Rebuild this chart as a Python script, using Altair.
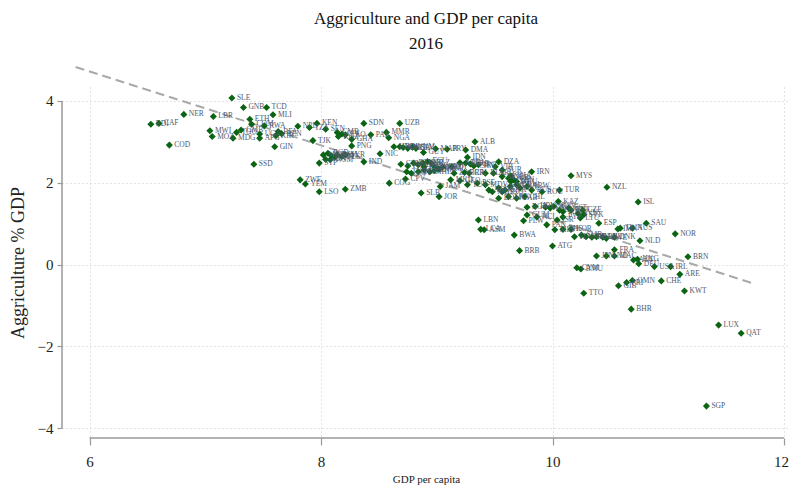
import altair as alt
import pandas as pd

codes = ["BDI","CAF","COD","NER","MWI","MOZ","LBR","SLE","MDG","TGO","GMB","GNB","ETH","COM","SSD","UGA","AFG","RWA","TCD","MLI","GIN","KIR","BFA","BEN",
"NPL","TZA","KEN","TJK","SEN","CMR","KGZ","CIV","LAO","GHA","PNG","SDN","PAK","MMR","NGA","UZB",
"MRT","BGD","KHM","VUT","FSM","TLS","SYR","TON","WSM","STP","NIC","IND","ZWE","YEM","LSO","ZMB","COG","CPV","SLB","JOR","JAM",
"GUY","HND","BOL","MNG","MDA","VNM","SLV","MAR","PRY","DMA","ALB","IDN",
"GTM","PHL","BTN","ARM","UKR","LKA","ECU","BLZ","SWZ","VCT","GRD","TUN","EGY","PER","COL","MHL","TKM","NAM","FJI","GEO","MKD",
"AZE","BIH","SRB","CHN","IRQ","DZA","SUR","ZAF","BRA","CRI","THA","BLR","ARG","MNE","CUB","LBY","VEN","NRU","IRN","MYS","TUR",
"TUV","PSE","MDV","AGO","MUS","URY","GNQ","KNA","MEX","CUW","SYC","ABW","DOM","XKX","GAB","CHL","RUS","ROU","VIR",
"BGR","HRV","LVA","GRC","HUN","KAZ","CYP","POL","EST","PRT","SVN","SVK","LTU","CZE","PLW","GUM","NCL","PAN","ISR","PYF",
"LBN","LCA","ASM","BWA","BRB","ATG",
"MLT","BHS","KOR","ITA","SMR","GBR","FIN","CAN","BEL","SWE","DNK","ESP","IMN","TWN","AUS","SAU","NOR","NLD","ISL","NZL","BRN",
"JPN","AND","FRA","MAC","AUT","HKG","DEU","USA","IRL","ARE","CHE","KWT","CYM","BMU","TTO","GIB","PRI","OMN","BHR","LUX","QAT","SGP"]

gdp = [6.53,6.60,6.69,6.815,7.04,7.06,7.07,7.23,7.24,7.27,7.31,7.33,7.385,7.40,7.42,7.47,7.47,7.51,7.53,7.585,7.60,7.61,7.63,7.66,
7.80,7.90,7.965,7.93,8.04,8.14,8.15,8.18,8.21,8.265,8.265,8.37,8.43,8.565,8.585,8.68,
8.02,8.06,8.09,8.12,8.14,8.18,8.21,8.04,8.08,7.985,8.51,8.37,7.82,7.865,7.985,8.21,8.59,8.73,8.865,9.02,9.03,
8.885,8.63,8.68,8.71,8.75,8.79,8.82,8.99,9.09,9.25,9.33,9.265,
8.69,8.75,8.80,8.84,8.88,8.89,8.92,8.95,8.98,9.01,9.05,8.74,8.78,8.84,8.89,8.94,8.98,9.02,9.13,9.20,9.12,
9.20,9.25,9.29,9.32,9.36,9.535,9.565,9.15,9.24,9.28,9.64,9.42,9.49,9.565,9.62,9.64,9.665,9.69,9.82,10.16,10.06,
9.265,9.35,9.42,9.45,9.48,9.535,9.565,9.59,9.635,9.69,9.72,9.78,9.535,9.62,9.69,9.76,9.82,9.91,9.505,
9.78,9.85,9.94,9.98,10.01,10.05,10.06,10.09,10.14,10.16,10.22,10.27,10.24,10.26,9.75,9.78,9.865,9.95,10.04,10.09,
9.36,9.38,9.41,9.67,9.715,10.0,
10.02,10.09,10.16,10.19,10.25,10.29,10.34,10.38,10.435,10.465,10.535,10.40,10.565,10.585,10.69,10.81,11.06,10.755,10.74,10.47,11.17,
10.38,10.465,10.535,10.535,10.70,10.735,10.745,10.88,11.02,11.10,10.94,11.14,10.21,10.245,10.27,10.57,10.64,10.69,10.68,11.435,11.63,11.33]

agri = [3.43,3.45,2.92,3.67,3.27,3.13,3.62,4.07,3.09,3.23,3.29,3.84,3.55,3.43,2.45,3.19,3.09,3.39,3.84,3.66,2.88,3.15,3.25,3.20,
3.38,3.35,3.45,3.03,3.31,3.23,3.13,3.19,3.17,3.06,2.90,3.45,3.17,3.23,3.10,3.45,
2.68,2.72,2.66,2.62,2.68,2.64,2.68,2.57,2.56,2.48,2.71,2.51,2.07,1.97,1.78,1.84,1.99,2.09,1.75,1.66,1.91,
2.74,2.88,2.88,2.86,2.84,2.87,2.84,2.83,2.82,2.80,3.00,2.62,
2.45,2.41,2.48,2.44,2.48,2.39,2.52,2.48,2.39,2.35,2.38,2.27,2.23,2.27,2.31,2.27,2.30,2.33,2.39,2.05,2.07,
2.49,2.48,2.46,2.41,2.44,2.51,2.31,2.23,2.25,2.23,2.17,2.23,2.23,2.15,2.11,2.03,2.07,2.03,2.27,2.17,1.82,
1.95,1.99,1.95,1.82,1.78,1.87,1.78,1.82,1.91,1.95,1.87,1.91,1.62,1.66,1.62,1.66,1.82,1.78,2.39,
1.40,1.42,1.40,1.38,1.42,1.54,1.33,1.29,1.38,1.33,1.25,1.22,1.14,1.33,1.07,1.21,1.16,0.97,1.09,1.16,
1.09,0.86,0.85,0.72,0.34,0.455,
0.85,0.86,0.86,0.68,0.72,0.68,0.67,0.68,0.67,0.64,0.67,1.01,0.87,0.89,0.89,1.01,0.75,0.58,1.53,1.89,0.19,
0.21,0.21,0.36,0.21,0.11,0.13,0.02,-0.05,-0.05,-0.24,-0.40,-0.645,-0.08,-0.11,-0.70,-0.52,-0.44,-0.39,-1.09,-1.48,-1.68,-3.46]

fit_gdp = [5.88, 11.72]
fit_agri = [4.83, -0.45]

x_ticks = [6, 8, 10, 12]
y_ticks = [-4, -2, 0, 2, 4]

df = pd.DataFrame({"code": codes, "gdp": gdp, "agri": agri})
fit = pd.DataFrame({"gdp": fit_gdp, "agri": fit_agri})

W, H = 728, 351
SERIF = "Liberation Serif"
xs = alt.Scale(domain=[5.7624, 12.0518], nice=False, zero=False)
ys = alt.Scale(domain=[-4.24, 4.34], nice=False, zero=False)

xax = alt.Axis(values=x_ticks, format="d", grid=True, gridDash=[1, 3], gridColor="#c8c8c8", domain=False,
               tickColor="#999999", tickSize=7, tickWidth=1.2, labelFont=SERIF, labelFontSize=15,
               labelColor="#222222", labelPadding=9, title="GDP per capita", titleFont=SERIF,
               titleFontSize=11, titleFontWeight="normal", titleColor="#222222", titlePadding=4,
               labelFlush=False, labelOverlap=False,
               labelOffset={"condition": {"test": "datum.value == 12", "value": -3}, "value": 0})
yax = alt.Axis(values=y_ticks, format="d", grid=True, gridDash=[1, 3], gridColor="#c8c8c8", domain=False,
               tickColor="#999999", tickSize=5, tickWidth=1.2, labelFont=SERIF, labelFontSize=15,
               labelColor="#222222", labelPadding=4, title="Aggriculture % GDP", titleFont=SERIF,
               titleFontSize=18, titleFontWeight="normal", titleColor="#222222", titlePadding=10,
               labelFlush=False, labelOverlap=False)

X = alt.X("gdp:Q", scale=xs, axis=xax, title="GDP per capita")
Y = alt.Y("agri:Q", scale=ys, axis=yax, title="Aggriculture % GDP")

pts = alt.Chart(df).mark_point(shape="diamond", filled=True, size=50, opacity=1,
                                color="#0b6414", clip=False).encode(x=X, y=Y)
lbl = alt.Chart(df).mark_text(align="left", baseline="middle", dx=5, font=SERIF, fontSize=7.5,
                              color="#4e5a6e", clip=False).encode(x=X, y=Y, text="code:N")
line = alt.Chart(fit).mark_line(color="#a9a9a9", strokeWidth=2, strokeDash=[9, 5],
                                clip=False).encode(x=X, y=Y)
base = alt.Chart(pd.DataFrame({"a": [0]}))
xline = base.mark_rule(color="#999999", strokeWidth=1.5).encode(
    x=alt.datum(6, scale=xs), x2=alt.datum(12), y=alt.value(H))
yline = base.mark_rule(color="#999999", strokeWidth=1.5).encode(
    x=alt.value(0), y=alt.datum(-4, scale=ys), y2=alt.datum(4))

chart = alt.layer(line, pts, lbl, xline, yline).properties(
    width=W, height=H,
    autosize=alt.AutoSizeParams(type="none"),
    padding={"left": 54, "top": 79, "right": 0, "bottom": 50},
    title=alt.TitleParams(text="Aggriculture and GDP per capita", subtitle="2016", font=SERIF,
                          fontSize=17, fontWeight="normal", color="#111111", subtitleFont=SERIF,
                          subtitleFontSize=17, subtitleColor="#111111", subtitlePadding=8,
                          anchor="middle", offset=10),
).configure_view(stroke=None)

chart.save("out.html", embed_options={"renderer": "svg", "actions": False})
